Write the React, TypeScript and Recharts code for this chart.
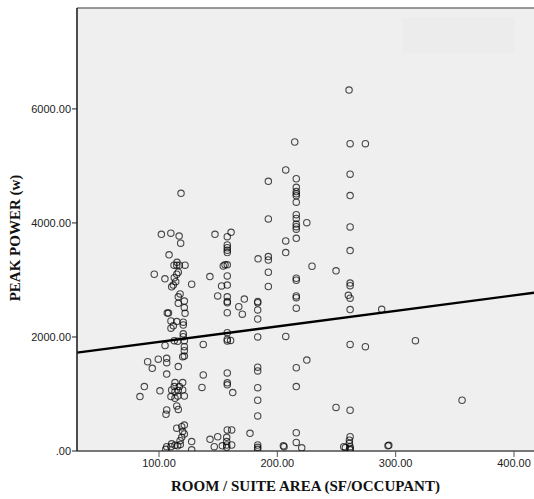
import { ScatterChart, Scatter, XAxis, YAxis, CartesianGrid, ReferenceLine, ReferenceArea, Label } from 'recharts'

// [area, peak power] pairs, grouped by the columns they sit in
const nearHundred: [number, number][] = [
  [118.6, 4520], [102, 3800], [110, 3820], [117, 3770], [118.3, 3645], [108.5, 3440],
  [112.7, 3260], [115, 3260], [117.2, 3260], [122, 3260], [115.2, 3310],
  [96, 3100], [105, 3020], [115, 3100], [116.3, 3135], [112.9, 3040], [114.1, 2970], [112.1, 2910], [110.7, 2880],
  [117.8, 2755], [116.3, 2705], [116.3, 2590], [121.4, 2630], [121.4, 2515], [122, 2415], [107, 2420], [108, 2420],
  [110.1, 2280], [115, 2270], [120.5, 2260], [120.5, 2210], [112.1, 2195], [110.1, 2155],
  [120.5, 2055], [120.5, 2005], [112.9, 1935], [115.8, 1925], [121.4, 1935],
  [105.1, 1850], [121.4, 1830], [121.4, 1760], [121.4, 1665], [120, 1655],
  [90.4, 1565], [94.3, 1450], [99.4, 1610], [106.5, 1625], [106.5, 1550], [116.3, 1480], [106.5, 1350],
  [113.5, 1200], [120, 1200], [112.9, 1130], [117.2, 1130], [110.7, 1070], [113.5, 1040], [116.3, 1060],
  [120, 1070], [121.4, 965], [115.8, 965], [110.1, 955], [113.5, 925],
  [87.6, 1130], [83.9, 955], [100.8, 1055],
  [115, 790], [116.3, 730], [106.5, 720], [105.9, 645],
  [121.4, 455], [119.2, 425], [115, 400], [120, 340], [121.4, 300], [119.2, 240], [117.8, 180],
  [110.7, 125], [115.8, 90], [106.5, 75], [105.7, 30], [110.1, 75], [113.5, 100], [118, 115],
  [127.6, 2925], [127.6, 165], [127.6, 20],
]

const nearOneFifty: [number, number][] = [
  [137.4, 1870], [137.4, 1335], [136.3, 1115], [143, 3060], [147.3, 3800], [149.6, 2720], [152.9, 2895],
  [143.1, 205], [149.6, 250], [146.7, 75], [153.5, 90],
  [160.9, 3835], [157.7, 3760], [157.7, 3615], [157.7, 3565], [157.7, 3520], [157.7, 3480],
  [154.3, 3245], [155.8, 3265], [157.7, 3265], [157.7, 3070], [157.7, 2910], [157.7, 2705], [157.7, 2620],
  [157.7, 2600], [157.7, 2425], [157.7, 2075], [157.7, 1960], [157.7, 1930], [160.5, 1940],
  [157.7, 1370], [157.7, 1195], [157.7, 1160], [162.3, 1025],
  [157.7, 370], [161.4, 370], [157.2, 240], [157.2, 165], [157.2, 105], [161.4, 105], [157.2, 65],
  [172.1, 2665], [167.4, 2530], [170.4, 2400], [176.9, 310],
]

const nearTwoHundred: [number, number][] = [
  [183.7, 3370], [183.4, 2620], [183.4, 2600], [183.4, 2475], [183.4, 2315], [183.4, 2000], [183.4, 1470],
  [183.4, 1405], [183.4, 1110], [183.4, 890], [183.4, 615], [183.4, 105], [183.4, 65], [183.4, 30],
  [192.4, 4730], [192.4, 4070], [192.4, 3410], [192.4, 3350], [192.4, 3135], [192.4, 2885],
  [207.1, 4930], [207.1, 3685], [207.1, 3480], [207.1, 2010], [205.1, 90], [205.7, 75],
  [214.7, 5420], [216, 4775], [216, 4625], [216, 4550], [216, 4510], [216, 4475], [216, 4365], [216, 4145],
  [216, 4080], [216, 3980], [216, 3935], [216, 3890], [216, 3730], [216, 3030], [216, 2995], [216, 2720],
  [216, 2690], [216, 2505], [216, 1460], [216, 1130], [216, 320], [216, 150],
  [220.6, 55], [224.9, 4005], [224.9, 1595], [229.3, 3240],
]

const aboveTwoFifty: [number, number][] = [
  [249.6, 3160], [249.6, 765], [256.1, 75], [257.5, 60],
  [260.6, 6330], [261.5, 5390], [261.5, 4855], [261.5, 4480], [261.5, 3930], [261.5, 3515], [261.5, 2945],
  [261.5, 2900], [260, 2730], [261.5, 2680], [261.5, 2480], [261.5, 1870], [261.5, 715], [261.5, 250],
  [260.9, 190], [260.9, 135], [261.5, 75], [261.5, 45], [261.5, 20],
  [274.4, 5390], [274.4, 1830], [288.2, 2485], [294.2, 100], [293.5, 90], [316.7, 1935], [356.1, 890],
]

const xTicks = [100, 200, 300, 400]
const yTicks = [0, 2000, 4000, 6000]
const xDomain: [number, number] = [30.7, 416.9]
const yDomain: [number, number] = [0, 7770]

// fit line
const fitIntercept = 1641
const fitSlope = 2.723

const points = [...nearHundred, ...nearOneFifty, ...nearTwoHundred, ...aboveTwoFifty]
  .map(([area, power]) => ({ area, power }))

const fmt = (v: number) => (v === 0 ? '.00' : v.toFixed(2))

const Ring = (props: any) => (
  <circle cx={props.cx} cy={props.cy} r={3.2} fill="none" stroke="#000" strokeOpacity={0.7} strokeWidth={1.1} />
)

export default function App() {
  return (
    <div style={{ position: 'absolute', left: 0, top: 0, width: 534, height: 499, background: '#fff' }}>
      <ScatterChart width={534} height={499} margin={{ top: 8, right: 0, bottom: 8, left: 0 }}>
        <CartesianGrid fill="#efefef" horizontal={false} vertical={false} />
        {/* faint empty legend box left over in the corner */}
        <ReferenceArea x1={306} x2={401} y1={6980} y2={7600} fill="#ececec" fillOpacity={1} stroke="none" />
        <XAxis
          type="number" dataKey="area" domain={xDomain} ticks={xTicks} allowDataOverflow
          tickFormatter={fmt} height={40} tickSize={6} tickMargin={2}
          axisLine={{ stroke: '#777', strokeWidth: 2 }} tickLine={{ stroke: '#555' }}
          tick={{ fill: '#222', fontSize: 11, fontFamily: 'Liberation Sans' }}
        >
          <Label
            value="ROOM / SUITE AREA (SF/OCCUPANT)" position="insideBottom" offset={0}
            style={{ fontFamily: 'Liberation Serif', fontWeight: 'bold', fontSize: 15, fill: '#111' }}
          />
        </XAxis>
        <YAxis
          type="number" dataKey="power" domain={yDomain} ticks={yTicks} allowDataOverflow
          tickFormatter={fmt} width={77} tickSize={5} tickMargin={1}
          axisLine={{ stroke: '#222', strokeWidth: 1.6 }} tickLine={{ stroke: '#222' }}
          tick={{ fill: '#222', fontSize: 11, fontFamily: 'Liberation Sans' }}
        >
          <Label
            content={() => (
              <text
                x={15} y={238} transform="rotate(-90 15 238)" textAnchor="middle" dominantBaseline="central"
                style={{ fontFamily: 'Liberation Serif', fontWeight: 'bold', fontSize: 15, fill: '#111' }}
              >
                PEAK POWER (w)
              </text>
            )}
          />
        </YAxis>
        <ReferenceLine y={yDomain[1]} stroke="#777" strokeWidth={1.5} />
        <Scatter data={points} shape={Ring} isAnimationActive={false} />
        <ReferenceLine
          segment={[
            { x: xDomain[0], y: fitIntercept + fitSlope * xDomain[0] },
            { x: xDomain[1], y: fitIntercept + fitSlope * xDomain[1] },
          ]}
          stroke="#000" strokeWidth={2.4}
        />
      </ScatterChart>
    </div>
  )
}
